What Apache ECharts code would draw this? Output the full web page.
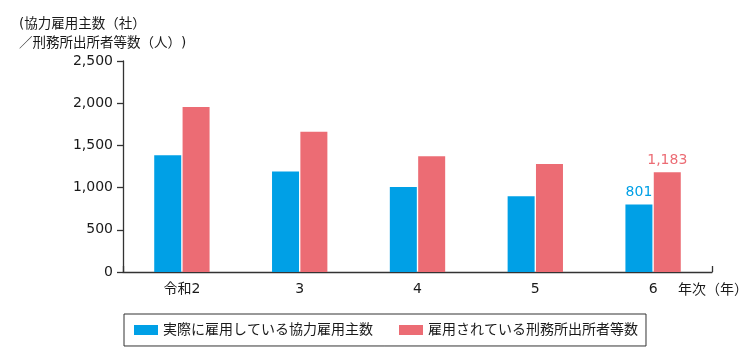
<!DOCTYPE html>
<html><head><meta charset="utf-8">
<script src="https://cdn.jsdelivr.net/npm/echarts@6/dist/echarts.min.js"></script>
<style>html,body{margin:0;padding:0;background:#fff;}#c{width:750px;height:359px;}</style>
</head><body><div id="c"></div>
<script>
const categories = ['令和2', '3', '4', '5', '6'];
const employers = [1382, 1192, 1008, 898, 801];
const employed = [1955, 1661, 1372, 1281, 1183];
const seriesNames = ['実際に雇用している協力雇用主数', '雇用されている刑務所出所者等数'];
const yTicks = { min: 0, max: 2500, interval: 500 };
const yTitle = '(協力雇用主数（社）\n／刑務所出所者等数（人）)';
const xTitle = '年次（年）';

const FONT = '"DejaVu Sans", "Noto Sans CJK JP", sans-serif';
const BLUE = '#00A0E6';
const RED = '#EC6C74';
const TXT = '#1a1a1a';

function withLastLabel(arr, color) {
  return arr.map((v, i) => i === arr.length - 1
    ? { value: v, label: { show: true, position: 'top', distance: 5, color: color, fontSize: 14, fontFamily: FONT,
        formatter: p => p.value.toLocaleString('en-US') } }
    : v);
}

const chart = echarts.init(document.getElementById('c'), null, { renderer: 'canvas' });
chart.setOption({
  animation: false,
  textStyle: { fontFamily: FONT },
  title: [
    { text: yTitle, left: 14, top: 10, textStyle: { fontSize: 13.5, fontWeight: 'normal', color: TXT, lineHeight: 19, fontFamily: FONT } },
    { text: xTitle, left: 673, top: 278, textStyle: { fontSize: 14, fontWeight: 'normal', color: TXT, fontFamily: FONT } }
  ],
  legend: {
    left: 124, top: 314, padding: [9, 8, 9, 10],
    borderColor: '#333', borderWidth: 1,
    itemWidth: 24, itemHeight: 10, itemGap: 26,
    icon: 'rect',
    textStyle: { fontSize: 14, color: TXT, fontFamily: FONT },
    data: seriesNames
  },
  grid: { left: 123, right: 38, top: 61, bottom: 87, containLabel: false },
  xAxis: {
    type: 'category', data: categories, boundaryGap: true,
    axisLine: { lineStyle: { color: '#333', width: 1.3 } },
    axisTick: { show: true, inside: true, length: 6, interval: (i) => i === categories.length - 1, lineStyle: { color: '#333', width: 1.3 } },
    axisLabel: { fontSize: 14, color: TXT, margin: 10, fontFamily: FONT }
  },
  yAxis: {
    type: 'value', min: yTicks.min, max: yTicks.max, interval: yTicks.interval,
    splitLine: { show: false },
    axisLine: { show: true, lineStyle: { color: '#333', width: 1.3 } },
    axisTick: { show: true, length: 6, lineStyle: { color: '#333', width: 1.3 } },
    axisLabel: { fontSize: 14, color: TXT, margin: 10, fontFamily: FONT, formatter: v => v.toLocaleString('en-US') }
  },
  series: [
    { name: seriesNames[0], type: 'bar', barWidth: 27, barGap: '5%', itemStyle: { color: BLUE }, data: withLastLabel(employers, BLUE) },
    { name: seriesNames[1], type: 'bar', barWidth: 27, barGap: '5%', itemStyle: { color: RED }, data: withLastLabel(employed, RED) }
  ]
});
</script></body></html>
